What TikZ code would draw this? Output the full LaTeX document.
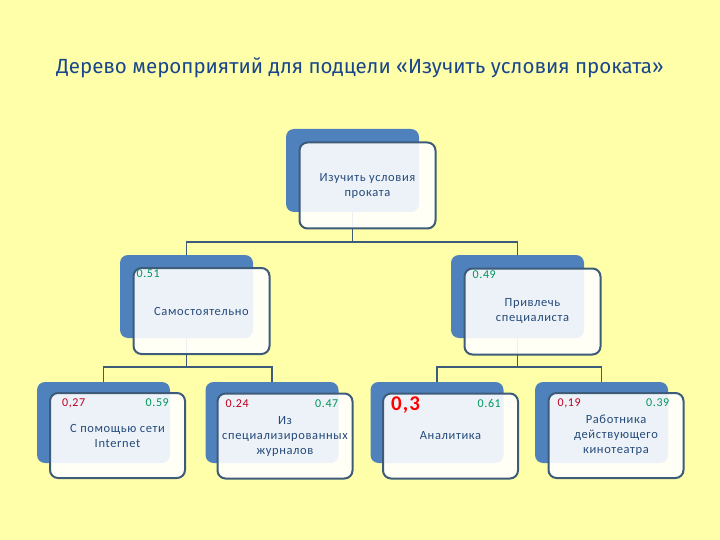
\documentclass[tikz,border=0pt]{standalone}
\usepackage{fontspec}
\setmainfont{Carlito}
\newfontfamily\boxfont[LetterSpace=5]{Carlito}
\newfontfamily\titlefont{Fira Sans}
\usetikzlibrary{positioning}
\definecolor{bgyellow}{RGB}{255,255,170}
\definecolor{backblue}{RGB}{79,129,189}
\definecolor{edgeblue}{RGB}{62,92,122}
\definecolor{textblue}{RGB}{36,74,122}
\definecolor{labred}{RGB}{192,0,32}
\definecolor{labgreen}{RGB}{0,150,90}
\definecolor{titleblue}{RGB}{25,70,140}
\pgfdeclarelayer{bg}
\pgfsetlayers{bg,main}
\tikzset{
  backbox/.style={fill=backblue, rounded corners=8pt, minimum width=133pt, minimum height=83pt, inner sep=0pt},
  frontbox/.style={draw=edgeblue, line width=2pt, fill=white, fill opacity=0.9, text opacity=1,
    rounded corners=8pt, minimum width=136pt, minimum height=86pt, inner sep=0pt,
    text=textblue, align=center, font=\boxfont\fontsize{12.5}{15}\selectfont},
  link/.style={draw=edgeblue, line width=1.6pt},
  lred/.style={text=labred, inner sep=0pt, font=\boxfont\fontsize{12}{12}\selectfont},
  lgreen/.style={text=labgreen, inner sep=0pt, font=\boxfont\fontsize{12}{12}\selectfont}
}
\begin{document}
\begin{tikzpicture}[x=1pt,y=-1pt]
    \node[text=titleblue, font=\titlefont\fontsize{20.5}{24}\selectfont] (title) at (360,68)
        {Дерево мероприятий для подцели «Изучить условия проката»};

    \node[backbox] (tb) at (352.5,170.5) {};
    \node[frontbox] (tf) at (367.5,185.5) {Изучить условия\\проката};

    \node[backbox] (sb) at (186.5,296.5) {};
    \node[frontbox] (sf) at (201.5,311) {Самостоятельно};
    \node[lgreen, anchor=west] (s51) at ([xshift=4pt,yshift=-7pt]sf.north west) {0.51};

    \node[backbox] (pb) at (517.5,296.5) {};
    \node[frontbox] (pf) at (532.5,311.5) {Привлечь\\специалиста};
    \node[lgreen, anchor=west] (p49) at ([xshift=9pt,yshift=-7pt]pf.north west) {0.49};

    \begin{scope}[backbox/.append style={minimum height=81pt}, frontbox/.append style={minimum width=135pt, minimum height=85pt}]
    \node[backbox] (nb) at (103.5,422.5) {};
    \node[frontbox] (nf) at (117.5,435.5) {С помощью сети\\Internet};
    \node[lred, anchor=west] (n27) at ([xshift=13pt,yshift=-11pt]nf.north west) {0,27};
    \node[lgreen, anchor=east] (n59) at ([xshift=-17pt,yshift=-11pt]nf.north east) {0.59};

    \node[backbox] (zb) at (272,422.5) {};
    \node[frontbox] (zf) at (285,436) {Из\\специализированных\\журналов};
    \node[lred, anchor=west] (z24) at ([xshift=9pt,yshift=-11pt]zf.north west) {0.24};
    \node[lgreen, anchor=east] (z47) at ([xshift=-15pt,yshift=-11pt]zf.north east) {0.47};

    \node[backbox] (ab) at (437,422.5) {};
    \node[frontbox] (af) at (450.5,436) {Аналитика};
    \node[text=red, inner sep=0pt, font=\boxfont\bfseries\fontsize{21}{22}\selectfont, anchor=west] (a3)
        at ([xshift=9pt,yshift=-13pt]af.north west) {0,3};
    \node[lgreen, anchor=east] (a61) at ([xshift=-18pt,yshift=-11pt]af.north east) {0.61};

    \node[backbox] (kb) at (601.5,422.5) {};
    \node[frontbox] (kf) at (616,435.5) {Работника\\действующего\\кинотеатра};
    \node[lred, anchor=west] (k19) at ([xshift=10pt,yshift=-11pt]kf.north west) {0,19};
    \node[lgreen, anchor=east] (k39) at ([xshift=-15pt,yshift=-11pt]kf.north east) {0.39};
    \end{scope}

    \begin{pgfonlayer}{bg}
    \fill[bgyellow] (0,0) rectangle (720,540);
    \foreach \c in {sb,pb}
        \draw[link] (tb.center) |- ([yshift=13pt]\c.north) -- (\c.north);
    \foreach \c in {nb,zb}
        \draw[link] (sb.center) |- ([yshift=15pt]\c.north) -- (\c.north);
    \foreach \c in {ab,kb}
        \draw[link] (pb.center) |- ([yshift=15pt]\c.north) -- (\c.north);
    \end{pgfonlayer}
\end{tikzpicture}
\end{document}
